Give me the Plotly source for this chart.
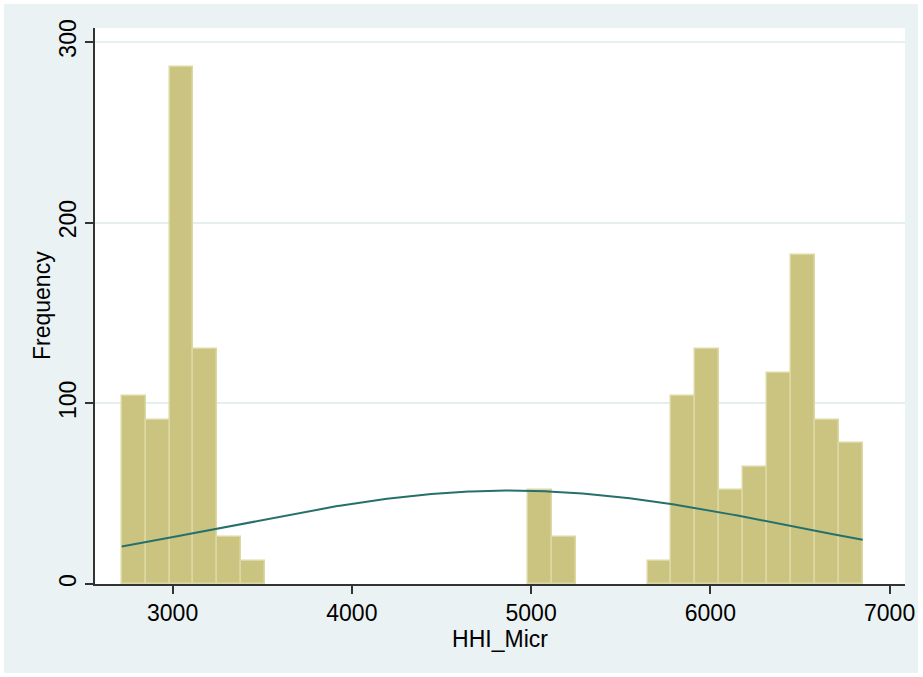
import numpy as np
import plotly.graph_objects as go

# ---- data (Stata histogram of HHI_Micr, frequency) ----
bin_start = 2716.0
bin_width = 133.35
counts = [104, 91, 286, 130, 26, 13, 0, 0, 0, 0, 0, 0, 0, 0, 0, 0, 0,
          52, 26, 0, 0, 0, 13, 104, 130, 52, 65, 117, 182, 91, 78]
x_ticks = [3000, 4000, 5000, 6000, 7000]
y_ticks = [0, 100, 200, 300]

counts_arr = np.array(counts, dtype=float)
centers = bin_start + (np.arange(len(counts)) + 0.5) * bin_width
n_total = counts_arr.sum()
mu = (counts_arr * centers).sum() / n_total
sd = np.sqrt((counts_arr * (centers - mu) ** 2).sum() / n_total)
x_min = bin_start
x_max = bin_start + len(counts) * bin_width
xs = np.linspace(x_min, x_max, 300)
ys = n_total * bin_width / (sd * np.sqrt(2 * np.pi)) * np.exp(-0.5 * ((xs - mu) / sd) ** 2)

nz = counts_arr > 0

W, H = 923, 677
ml, mr, mt, mb = 95, 18, 28, 93
FONT = "Liberation Sans, Arial, sans-serif"
BG = "#EAF2F3"
FS = 23

fig = go.Figure()
fig.add_trace(go.Bar(
    x=centers[nz], y=counts_arr[nz], width=bin_width,
    marker=dict(color="rgb(202,196,128)", line=dict(color="rgb(220,216,164)", width=1.5)),
    showlegend=False, hoverinfo="x+y",
))
fig.add_trace(go.Scatter(
    x=xs, y=ys, mode="lines",
    line=dict(color="#26706C", width=2),
    showlegend=False,
))

pw = W - ml - mr
ph = H - mt - mb
def px_x(p):
    return (p - ml) / pw
def px_y(p):
    return (H - mb - p) / ph

fig.add_shape(type="rect", xref="paper", yref="paper",
              x0=px_x(4), x1=px_x(918), y0=px_y(673), y1=px_y(4),
              fillcolor=BG, line=dict(width=0), layer="below")
fig.add_shape(type="rect", xref="paper", yref="paper",
              x0=0, x1=1, y0=0, y1=1,
              fillcolor="white", line=dict(width=0), layer="below")

fig.add_annotation(text="Frequency", xref="paper", yref="paper",
                   x=px_x(42), y=0.5, textangle=-90, showarrow=False,
                   xanchor="center", yanchor="middle",
                   font=dict(family=FONT, size=FS, color="black"))

fig.update_layout(
    width=W, height=H,
    margin=dict(l=ml, r=mr, t=mt, b=mb, pad=0),
    paper_bgcolor="white",
    plot_bgcolor="white",
    bargap=0,
    font=dict(family=FONT, size=FS, color="black"),
    xaxis=dict(
        range=[2567, 7086],
        tickvals=x_ticks, ticktext=[str(v) for v in x_ticks],
        ticks="outside", ticklen=8, tickwidth=1.5, tickcolor="#333333",
        showline=True, linecolor="#333333", linewidth=1.5,
        showgrid=False, zeroline=False,
        tickfont=dict(size=FS),
        title=dict(text="HHI_Micr", font=dict(size=FS), standoff=0),
        automargin=False,
    ),
    yaxis=dict(
        range=[0, 307.7],
        tickvals=y_ticks, ticktext=[str(v) for v in y_ticks],
        tickangle=-90,
        ticks="outside", ticklen=8, tickwidth=1.5, tickcolor="#333333",
        showline=True, linecolor="#333333", linewidth=1.5,
        showgrid=True, gridcolor="#E6EFF0", gridwidth=2,
        zeroline=False,
        tickfont=dict(size=FS),
        automargin=False,
    ),
)

fig.write_html("out.html")
